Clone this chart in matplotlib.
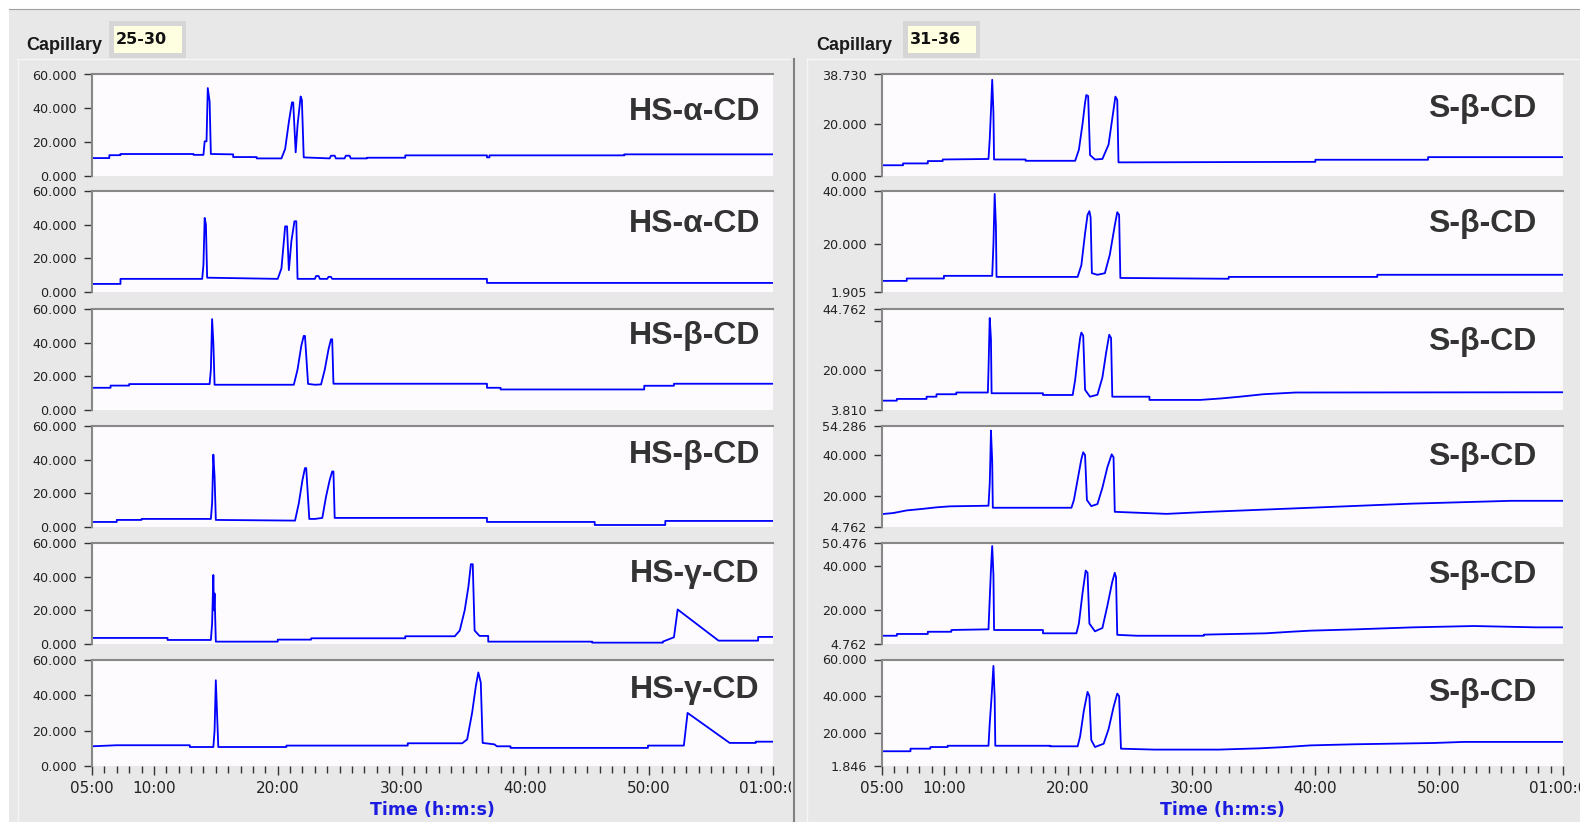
import numpy as np
import matplotlib
matplotlib.use('Agg')
import matplotlib.pyplot as plt
from matplotlib.lines import Line2D
from matplotlib.patches import Rectangle
from matplotlib.transforms import Bbox, TransformedBbox

# time in minutes, signal in thousands
hs_a_cd_1 = [(5.0, 10.6), (6.4, 10.6), (6.4, 12.3), (7.3, 12.3), (7.3, 13.0), (13.2, 13.0), (13.2, 12.5),
             (14.0, 12.5), (14.1, 20.5), (14.25, 20.5), (14.35, 52.0), (14.5, 44.0), (14.6, 13.0), (16.4, 12.8),
             (16.4, 11.2), (18.3, 11.2), (18.3, 10.4), (20.3, 10.4), (20.6, 16.0), (20.9, 32.0), (21.15, 43.5),
             (21.25, 43.5), (21.45, 14.0), (21.6, 30.0), (21.85, 47.0), (21.95, 45.0), (22.1, 11.0), (24.2, 10.4),
             (24.3, 12.0), (24.6, 12.0), (24.7, 10.4), (25.4, 10.4), (25.5, 12.0), (25.8, 12.0), (25.9, 10.4),
             (27.2, 10.4), (27.2, 10.8), (30.3, 10.8), (30.3, 12.2), (36.9, 12.2), (36.9, 11.0), (37.1, 11.0),
             (37.1, 12.2), (48.0, 12.2), (48.0, 12.8), (60.0, 12.8)]
hs_a_cd_2 = [(5.0, 4.8), (7.3, 4.8), (7.3, 7.8), (13.9, 7.8), (14.0, 16.0), (14.1, 44.0), (14.2, 40.0),
             (14.3, 8.5), (20.0, 7.8), (20.3, 14.0), (20.6, 39.0), (20.75, 39.0), (20.9, 13.0), (21.1, 30.0),
             (21.35, 42.0), (21.5, 42.0), (21.6, 7.8), (23.0, 7.8), (23.1, 9.5), (23.3, 9.5), (23.4, 7.8),
             (24.0, 7.8), (24.1, 9.0), (24.3, 9.0), (24.4, 7.8), (36.9, 7.8), (36.9, 5.4), (60.0, 5.4)]
hs_b_cd_1 = [(5.0, 13.2), (6.5, 13.2), (6.5, 14.5), (8.0, 14.5), (8.0, 15.4), (14.5, 15.4), (14.6, 24.0),
             (14.7, 54.0), (14.8, 40.0), (14.9, 15.0), (21.3, 15.0), (21.6, 24.0), (21.9, 38.0), (22.1, 44.0),
             (22.2, 44.0), (22.45, 15.5), (23.0, 15.0), (23.5, 15.2), (23.8, 24.0), (24.1, 36.0), (24.3, 42.0),
             (24.4, 42.0), (24.5, 15.6), (36.9, 15.6), (36.9, 13.2), (38.0, 13.2), (38.0, 12.2), (49.6, 12.2),
             (49.6, 14.4), (52.0, 14.4), (52.0, 15.6), (60.0, 15.6)]
hs_b_cd_2 = [(5.0, 3.0), (7.0, 3.0), (7.0, 4.2), (9.0, 4.2), (9.0, 4.8), (14.6, 4.8), (14.7, 14.0),
             (14.8, 43.0), (14.9, 30.0), (15.0, 4.2), (21.4, 3.8), (21.7, 14.0), (22.0, 28.0), (22.2, 35.0),
             (22.3, 35.0), (22.55, 4.8), (23.0, 4.8), (23.6, 5.4), (23.9, 18.0), (24.2, 28.0), (24.4, 33.0),
             (24.5, 33.0), (24.6, 5.4), (36.9, 5.4), (36.9, 3.0), (45.6, 3.0), (45.6, 1.2), (51.3, 1.2),
             (51.3, 3.6), (60.0, 3.6)]
hs_g_cd_1 = [(5.0, 3.6), (11.1, 3.6), (11.1, 2.4), (14.6, 2.4), (14.7, 12.0), (14.8, 41.0), (14.85, 20.0),
             (14.9, 30.0), (15.0, 1.4), (20.0, 1.4), (20.0, 2.6), (22.7, 2.6), (22.7, 3.4), (30.3, 3.4),
             (30.3, 4.6), (34.3, 4.6), (34.7, 8.0), (35.1, 20.0), (35.4, 34.0), (35.6, 47.4), (35.75, 47.4),
             (35.9, 8.0), (36.3, 4.8), (37.0, 4.8), (37.0, 1.4), (45.4, 1.4), (45.4, 0.8), (51.1, 0.8),
             (51.1, 1.4), (52.0, 4.0), (52.3, 20.5), (55.6, 2.0), (58.8, 2.0), (58.8, 4.2), (60.0, 4.2)]
hs_g_cd_2 = [(5.0, 11.1), (7.0, 11.7), (12.9, 11.7), (12.9, 10.7), (14.8, 10.7), (14.9, 20.0), (15.0, 48.3),
             (15.1, 29.5), (15.2, 10.7), (20.7, 10.7), (20.7, 11.5), (30.5, 11.5), (30.5, 12.8), (34.9, 12.8),
             (35.3, 15.0), (35.7, 30.0), (36.0, 45.0), (36.2, 52.7), (36.4, 47.0), (36.55, 13.0), (37.5, 12.2),
             (37.7, 11.1), (38.8, 11.1), (38.8, 10.2), (49.9, 10.2), (49.9, 11.5), (52.8, 11.5), (53.1, 29.9),
             (56.5, 13.0), (58.6, 13.0), (58.6, 13.7), (60.0, 13.7)]

s_b_cd_1 = [(5.0, 4.1), (6.7, 4.1), (6.7, 4.8), (8.7, 4.8), (8.7, 5.7), (9.9, 5.7), (9.9, 6.3), (13.6, 6.5),
            (13.7, 14.0), (13.8, 24.8), (13.9, 36.7), (14.0, 24.0), (14.05, 6.3), (16.6, 6.3), (16.6, 5.8),
            (20.6, 5.8), (20.9, 10.0), (21.2, 20.0), (21.4, 28.0), (21.5, 30.9), (21.65, 30.5), (21.8, 8.0),
            (22.2, 6.3), (22.8, 6.5), (23.3, 12.0), (23.6, 22.0), (23.85, 30.3), (24.0, 29.0), (24.1, 5.2),
            (40.0, 5.4), (40.0, 6.2), (49.1, 6.2), (49.1, 7.2), (60.0, 7.2)]
s_b_cd_2 = [(5.0, 6.1), (7.0, 6.1), (7.0, 7.0), (10.0, 7.0), (10.0, 8.0), (13.9, 8.0), (14.0, 20.0),
            (14.1, 38.9), (14.2, 26.7), (14.25, 7.6), (20.8, 7.6), (21.1, 12.0), (21.4, 24.0), (21.6, 31.0),
            (21.75, 32.4), (21.85, 30.0), (21.95, 9.0), (22.4, 8.4), (23.0, 9.0), (23.4, 16.0), (23.8, 27.0),
            (24.0, 32.0), (24.15, 31.0), (24.25, 7.2), (33.0, 6.9), (33.0, 7.6), (45.0, 7.6), (45.0, 8.4),
            (60.0, 8.4)]
s_b_cd_3 = [(5.0, 7.6), (6.2, 7.6), (6.2, 8.3), (8.6, 8.3), (8.6, 9.2), (9.4, 9.2), (9.4, 10.2), (11.0, 10.2),
            (11.0, 10.9), (13.55, 10.9), (13.6, 20.0), (13.7, 41.1), (13.8, 32.5), (13.85, 10.6), (18.0, 10.6),
            (18.0, 9.9), (20.4, 9.9), (20.6, 16.0), (20.8, 25.0), (21.0, 33.0), (21.1, 35.2), (21.25, 34.0),
            (21.4, 12.0), (21.8, 9.2), (22.4, 10.0), (22.8, 17.0), (23.1, 27.0), (23.35, 34.3), (23.5, 33.0),
            (23.6, 9.2), (26.6, 9.2), (26.6, 7.9), (30.7, 7.9), (32.4, 8.5), (33.9, 9.2), (35.8, 10.2),
            (38.4, 10.9), (60.0, 11.0)]
s_b_cd_4 = [(5.0, 11.1), (5.9, 11.6), (7.0, 12.9), (8.2, 13.6), (9.4, 14.4), (10.5, 14.9), (13.6, 15.2),
            (13.7, 26.0), (13.75, 37.7), (13.8, 52.0), (13.9, 37.0), (13.95, 14.2), (20.3, 14.2), (20.5, 18.0),
            (20.8, 28.0), (21.1, 38.0), (21.25, 41.4), (21.4, 40.0), (21.55, 18.0), (21.9, 15.0), (22.4, 16.0),
            (22.8, 24.0), (23.2, 34.0), (23.55, 40.4), (23.7, 39.0), (23.8, 12.2), (28.0, 11.2), (31.4, 12.2),
            (39.6, 14.2), (47.7, 16.2), (55.8, 17.6), (60.0, 17.6)]
s_b_cd_5 = [(5.0, 8.5), (6.2, 8.5), (6.2, 9.3), (8.7, 9.3), (8.7, 10.3), (10.6, 10.3), (10.6, 11.1),
            (13.6, 11.4), (13.7, 25.0), (13.8, 38.5), (13.9, 49.1), (14.0, 36.0), (14.05, 11.1), (18.0, 11.1),
            (18.0, 9.6), (20.7, 9.6), (20.9, 14.0), (21.2, 28.0), (21.45, 38.0), (21.6, 37.0), (21.75, 14.0),
            (22.2, 10.5), (22.8, 12.0), (23.2, 22.0), (23.6, 33.0), (23.8, 37.0), (23.9, 35.0), (24.0, 8.9),
            (25.6, 8.5), (31.0, 8.5), (31.0, 9.0), (36.0, 9.6), (38.0, 10.3), (39.6, 10.8), (43.3, 11.4),
            (47.9, 12.3), (52.8, 12.9), (57.8, 12.3), (60.0, 12.3)]
s_b_cd_6 = [(5.0, 9.9), (7.3, 9.9), (7.3, 11.3), (8.9, 11.3), (8.9, 12.2), (10.3, 12.2), (10.3, 12.9),
            (13.6, 12.9), (13.7, 25.0), (13.85, 39.6), (14.0, 56.5), (14.1, 39.0), (14.15, 12.9), (18.6, 12.9),
            (18.6, 12.6), (20.8, 12.6), (21.0, 18.0), (21.3, 32.0), (21.6, 42.3), (21.75, 40.0), (21.9, 16.0),
            (22.2, 12.2), (22.9, 14.0), (23.3, 22.0), (23.7, 34.0), (24.0, 41.4), (24.15, 40.0), (24.3, 11.3),
            (27.0, 10.8), (32.2, 10.8), (35.5, 11.5), (37.6, 12.2), (39.6, 13.1), (43.1, 13.7), (49.5, 14.4),
            (52.0, 15.0), (60.0, 15.0)]

left_traces = [hs_a_cd_1, hs_a_cd_2, hs_b_cd_1, hs_b_cd_2, hs_g_cd_1, hs_g_cd_2]
left_names = ['HS-α-CD', 'HS-α-CD', 'HS-β-CD', 'HS-β-CD', 'HS-γ-CD', 'HS-γ-CD']
left_yticks = [[0, 20, 40, 60]] * 6

right_traces = [s_b_cd_1, s_b_cd_2, s_b_cd_3, s_b_cd_4, s_b_cd_5, s_b_cd_6]
right_names = ['S-β-CD'] * 6
right_yticks = [[0, 20, 38.73], [1.905, 20, 40], [3.81, 20, 40, 44.762],
                [4.762, 20, 40, 54.286], [4.762, 20, 40, 50.476], [1.846, 20, 40, 60]]

time_ticks = [5, 10, 20, 30, 40, 50, 60]
time_labels = ['05:00', '10:00', '20:00', '30:00', '40:00', '50:00', '01:00:00']
capillaries = ['25-30', '31-36']

W, H = 1580, 822
BG = '#e8e8e8'
fig = plt.figure(figsize=(W / 100, H / 100), dpi=100, facecolor=BG)


def fx(x):
    return x / W


def fy(y):
    return 1 - y / H


def hline(x0, x1, y, c, lw=1.0):
    fig.add_artist(Line2D([fx(x0), fx(x1)], [fy(y), fy(y)], transform=fig.transFigure, color=c, lw=lw))


def vline(x, y0, y1, c, lw=1.0):
    fig.add_artist(Line2D([fx(x), fx(x)], [fy(y0), fy(y1)], transform=fig.transFigure, color=c, lw=lw))


def rect(x0, y0, x1, y1, c):
    fig.add_artist(Rectangle((fx(x0), fy(y1)), fx(x1) - fx(x0), fy(y0) - fy(y1),
                             transform=fig.transFigure, facecolor=c, edgecolor='none'))


# window chrome
rect(0, 0, W, 9, 'white')
rect(0, 0, 9, H, 'white')
hline(9, W, 9.5, '#a0a0a0', 0.8)
hline(17, 790, 59.5, '#f6f6f6', 1.0)
vline(17.5, 59, H, '#f6f6f6', 1.0)
hline(807, W, 59.5, '#f6f6f6', 1.0)
vline(807, 59, H, '#f6f6f6', 1.0)
vline(794, 59, H, '#808080', 1.5)

tops = [74.5, 191, 309, 426, 543, 659.5]
bots = [176, 292, 410, 527, 644, 766]
left_base = [45, 41, 35, 37, 39, 38]
right_base = [43, 41, 41, 39, 40, 41]

panels = [(92, 773, left_traces, left_names, left_yticks, left_base, 13, 26, 112),
          (882, 1563, right_traces, right_names, right_yticks, right_base, 27, 816, 906)]

for p, (x0, x1, traces, names, yticks, base, rpad, cap_x, box_x) in enumerate(panels):
    # "Capillary" indicator
    fig.text(fx(cap_x), fy(50), 'Capillary', fontsize=13, fontweight='bold', family='Liberation Sans',
             color='#1a1a1a', va='baseline', ha='left')
    rect(box_x - 3, 21, box_x + 74, 58, '#d6d6d6')
    rect(box_x + 2, 26, box_x + 70, 53, '#fefee0')
    fig.text(fx(box_x + 4), fy(39.5), capillaries[p], fontsize=11.5, fontweight='bold', color='#111111',
             va='center', ha='left')

    for i in range(6):
        ax = fig.add_axes([fx(x0), fy(bots[i]), fx(x1) - fx(x0), fy(tops[i]) - fy(bots[i])])
        ax.set_facecolor('#fdfbfd')
        t, v = np.array(traces[i]).T
        ax.plot(t, v, color='#0000ff', lw=1.3)
        ax.set_xlim(5, 60)
        ax.set_ylim(yticks[i][0], yticks[i][-1])
        for s in ['right', 'bottom']:
            ax.spines[s].set_visible(False)
        for s in ['top', 'left']:
            ax.spines[s].set_color('#888888')
            ax.spines[s].set_linewidth(1.5)
        ax.set_yticks(yticks[i])
        ax.set_yticklabels(['' if (p == 1 and i == 2 and y == 40) else f'{y:.3f}' for y in yticks[i]])
        ax.tick_params(axis='y', direction='out', length=6, width=1, color='#333333', pad=5,
                       labelsize=9.2, labelcolor='#222222')
        if i < 5:
            ax.set_xticks([])
        else:
            ax.set_xticks(time_ticks)
            ax.set_xticklabels(time_labels)
            ax.set_xticks(np.arange(5, 61, 1), minor=True)
            ax.tick_params(axis='x', which='both', direction='out', width=1, color='#333333',
                           labelsize=11, labelcolor='#222222', pad=4)
            ax.tick_params(axis='x', which='major', length=6.5)
            ax.tick_params(axis='x', which='minor', length=5)
            if p == 0:
                last = ax.xaxis.get_major_ticks()[-1].label1
                last.set_clip_box(TransformedBbox(Bbox([[0, 0], [fx(791), 1]]), fig.transFigure))
                last.set_clip_on(True)
        fig.text(fx(x1 - rpad), fy(tops[i] + base[i]), names[i], fontsize=23, fontweight='bold',
                 family='Liberation Sans', color='#333333', ha='right', va='baseline')

    fig.text(fx((x0 + x1) / 2), fy(810), 'Time (h:m:s)', fontsize=12.5, fontweight='bold',
             color='#1c1ce0', ha='center', va='center')

fig.savefig('out.png', dpi=100, facecolor=BG)
